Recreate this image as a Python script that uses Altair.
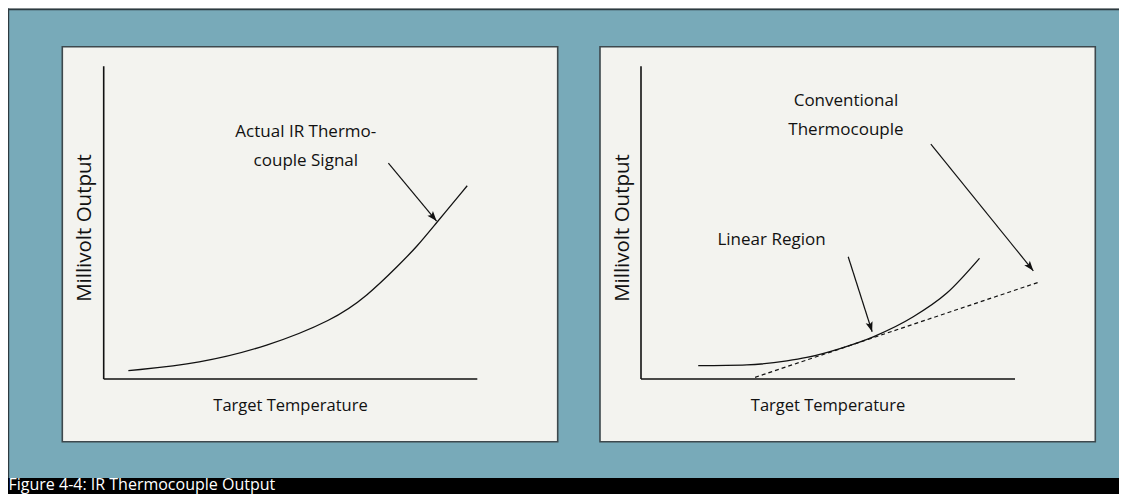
import math
import altair as alt
import pandas as pd

W, H = 1111, 486
FONT = "Open Sans"
INK = "#111111"

# ---------------- data (arbitrary units: temperature 0-100, millivolts 0-100) ----------------
left_curve_t = [6.6, 25.8, 43.6, 61.5, 70.4, 79.3, 83.8, 88.2, 97.3]
left_curve_mv = [2.65, 5.0, 10.3, 18.9, 26.4, 36.8, 42.3, 48.7, 61.8]

right_curve_t = [15.3, 28.3, 39.0, 44.3, 53.2, 62.1, 72.8, 81.7, 90.5]
right_curve_mv = [4.25, 4.5, 5.8, 6.9, 9.75, 13.5, 19.9, 27.4, 38.6]

linear_t = [30.5, 106.7]
linear_mv = [0.54, 31.1]

left_arrow_t0, left_arrow_mv0, left_arrow_t1, left_arrow_mv1 = [76.2], [69.0], [89.1], [50.5]
right_arrow_t0 = [55.4, 77.5]
right_arrow_mv0 = [39.1, 75.1]
right_arrow_t1 = [61.8, 104.9]
right_arrow_mv1 = [15.1, 34.6]

left_labels = ["Actual IR Thermo-", "couple Signal"]
left_label_t = [54.1, 54.1]
left_label_mv = [79.1, 69.7]
right_labels = ["Linear Region", "Conventional", "Thermocouple"]
right_label_t = [34.9, 54.8, 54.8]
right_label_mv = [44.5, 88.9, 79.6]

x_title = "Target Temperature"
y_title = "Millivolt Output"
caption = "Figure 4-4: IR Thermocouple Output"

# ---------------- layout (pixels inside the chart) ----------------
Y_RANGE = [371.0, 58.3]
LEFT_X_RANGE = [95.7, 469.3]
RIGHT_X_RANGE = [633.0, 1007.0]
PX_X = (LEFT_X_RANGE[1] - LEFT_X_RANGE[0]) / 100.0
PX_Y = (Y_RANGE[0] - Y_RANGE[1]) / 100.0

ARROW_PATH = "M0,0L-0.36,1L0,0.78L0.36,1Z"


def angle_of(t0, m0, t1, m1):
    dx = (t1 - t0) * PX_X
    dy = -(m1 - m0) * PX_Y
    return math.degrees(math.atan2(dx, -dy)) % 360


def panel(xrange, curve_t, curve_mv, arrows, labels, dashed=None, interp="monotone"):
    xs = alt.Scale(domain=[0, 100], range=xrange)
    ys = alt.Scale(domain=[0, 100], range=Y_RANGE)

    def X(f):
        return alt.X(f, type="quantitative", scale=xs, axis=None)

    def Y(f):
        return alt.Y(f, type="quantitative", scale=ys, axis=None)

    axes_df = pd.DataFrame({"t0": [0, 0], "m0": [0, 0], "t1": [100, 0], "m1": [0, 100]})
    axes = alt.Chart(axes_df).mark_rule(color=INK, strokeWidth=1.6).encode(
        x=X("t0"), y=Y("m0"), x2="t1", y2="m1"
    )
    curve = alt.Chart(pd.DataFrame({"t": curve_t, "mv": curve_mv})).mark_line(
        color=INK, strokeWidth=1.3, interpolate=interp
    ).encode(x=X("t"), y=Y("mv"))
    layers = [axes]
    if dashed is not None:
        dt, dm = dashed
        layers.append(
            alt.Chart(pd.DataFrame({"t": dt, "mv": dm})).mark_line(
                color=INK, strokeWidth=1.2, strokeDash=[4, 3]
            ).encode(x=X("t"), y=Y("mv"))
        )
    layers.append(curve)

    t0, m0, t1, m1 = arrows
    adf = pd.DataFrame({"t0": t0, "m0": m0, "t1": t1, "m1": m1})
    adf["ang"] = [angle_of(a, b, c, d) for a, b, c, d in zip(t0, m0, t1, m1)]
    layers.append(
        alt.Chart(adf).mark_rule(color=INK, strokeWidth=1.2).encode(
            x=X("t0"), y=Y("m0"), x2="t1", y2="m1"
        )
    )
    layers.append(
        alt.Chart(adf).mark_point(
            shape=ARROW_PATH, filled=True, size=400, color=INK, opacity=1, strokeWidth=0
        ).encode(x=X("t1"), y=Y("m1"), angle=alt.Angle("ang:Q", scale=None))
    )

    txt, lt, lm = labels
    layers.append(
        alt.Chart(pd.DataFrame({"txt": txt, "t": lt, "mv": lm})).mark_text(
            font=FONT, fontSize=17, color=INK, baseline="middle", align="center"
        ).encode(x=X("t"), y=Y("mv"), text="txt:N")
    )
    layers.append(
        alt.Chart(pd.DataFrame({"txt": [x_title], "t": [50.0], "mv": [-8.6]})).mark_text(
            font=FONT, fontSize=16.5, color=INK, baseline="middle", align="center"
        ).encode(x=X("t"), y=Y("mv"), text="txt:N")
    )
    layers.append(
        alt.Chart(pd.DataFrame({"txt": [y_title], "t": [-4.9], "mv": [48.3]})).mark_text(
            font=FONT, fontSize=20.5, color=INK, baseline="middle", align="center", angle=270
        ).encode(x=X("t"), y=Y("mv"), text="txt:N")
    )
    return alt.layer(*layers)


one = pd.DataFrame({"a": [0]})


def box(x0, x1, y0, y1, fill, stroke=None, sw=0):
    kw = dict(fill=fill)
    if stroke:
        kw.update(stroke=stroke, strokeWidth=sw)
    return alt.Chart(one).mark_rect(**kw).encode(
        x=alt.value(x0), x2=alt.value(x1), y=alt.value(y0), y2=alt.value(y1)
    )


decor = alt.layer(
    box(0, W, 1.5, 470, "#78aab9"),
    box(0, W, 0.5, 2.2, "#2d3a40"),
    box(-1, 1.2, 0.5, 470, "#2d3a40"),
    box(54.3, 549.7, 38.7, 433.7, "#f3f3ef", "#3d484d", 1.6),
    box(592, 1087.3, 38.7, 433.7, "#f3f3ef", "#3d484d", 1.6),
    box(0, W, 470, H + 2, "#000000"),
    alt.Chart(one).mark_text(
        text=caption, font=FONT, fontSize=16, color="#ffffff", align="left", baseline="alphabetic"
    ).encode(x=alt.value(0.5), y=alt.value(482)),
)

left = panel(
    LEFT_X_RANGE, left_curve_t, left_curve_mv,
    (left_arrow_t0, left_arrow_mv0, left_arrow_t1, left_arrow_mv1),
    (left_labels, left_label_t, left_label_mv),
    interp="basis",
)
right = panel(
    RIGHT_X_RANGE, right_curve_t, right_curve_mv,
    (right_arrow_t0, right_arrow_mv0, right_arrow_t1, right_arrow_mv1),
    (right_labels, right_label_t, right_label_mv),
    dashed=(linear_t, linear_mv),
)

chart = alt.layer(decor, left, right).resolve_scale(x="independent", y="independent").properties(
    width=W, height=H, autosize=alt.AutoSizeParams(type="none"), padding=0
).configure_view(stroke=None).configure(background="#ffffff")

chart.save("out.html", embed_options={"renderer": "svg", "actions": False})
